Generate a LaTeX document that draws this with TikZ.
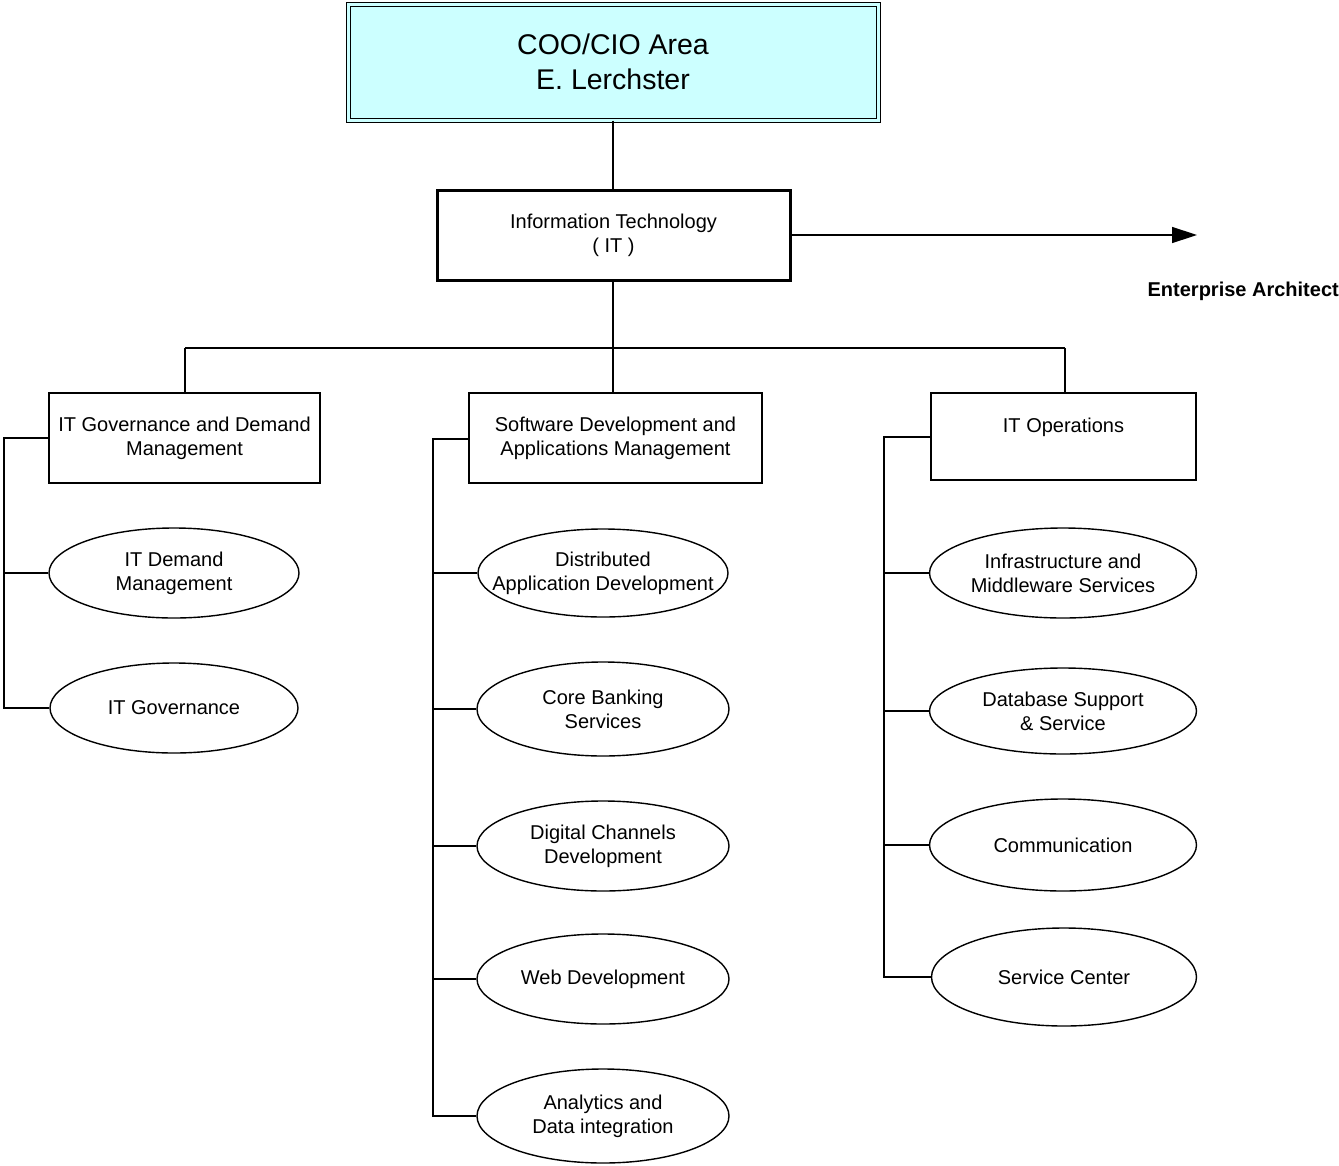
\documentclass[tikz,border=0pt]{standalone}
\usepackage{fontspec}
\setmainfont{Liberation Sans}
\usetikzlibrary{shapes.geometric,arrows.meta}
\definecolor{cooFill}{HTML}{CCFFFF}
\tikzset{
  txt/.style={font=\fontsize{20pt}{24pt}\selectfont, align=center, inner sep=0pt},
  unitbox/.style={txt, draw, rectangle, line width=1.4pt},
  oval/.style={txt, draw, ellipse, line width=1.4pt},
  conn/.style={line width=1.4pt},
}
\begin{document}
\begin{tikzpicture}[x=1pt,y=-1pt]
\useasboundingbox (0,0) rectangle (1339,1165);
% top
\node[draw, rectangle, fill=cooFill, double=cooFill, double distance=3pt, line width=1pt,
      minimum width=530pt, minimum height=116pt, inner sep=0pt, align=center,
      font=\fontsize{28.5pt}{35pt}\selectfont] (coo) at (613,62) {COO/CIO Area\\E. Lerchster};
\node[unitbox, line width=3pt, minimum width=353pt, minimum height=90pt] (it) at (613.5,235)
  {Information Technology\\( IT )};
\draw[conn] (coo.south) -- (coo.south |- it.north);
% arrow to Enterprise Architect
\coordinate (eatip) at (1197,235);
\draw[conn, -{Triangle[length=25pt,width=16pt]}] (it.east) -- (eatip);
\node[font=\bfseries\fontsize{20pt}{24pt}\selectfont, anchor=east, inner sep=0pt] (ea) at (1339,291) {Enterprise Architect};
% second level boxes
\node[unitbox, minimum width=271pt, minimum height=90pt] (gdm) at (184.5,438) {IT Governance and Demand\\Management};
\node[unitbox, minimum width=293pt, minimum height=90pt] (sdm) at (615.5,438) {Software Development and\\Applications Management};
\node[unitbox, minimum width=265pt, minimum height=87pt] (ops) at (1063.5,436.5) {IT Operations\\[-2pt]\mbox{}};
% tree connectors
\coordinate (jc) at (613,348);
\coordinate (jl) at (185,348);
\coordinate (jr) at (1065,348);
\draw[conn] (it.south -| jc) -- (jc);
\draw[conn] (jl) -- (jr);
\draw[conn] (jl) -- (jl |- gdm.north);
\draw[conn] (jc) -- (jc |- sdm.north);
\draw[conn] (jr) -- (jr |- ops.north);
% left column ellipses
\node[oval, minimum width=250pt, minimum height=90pt] (dem) at (174,573) {IT Demand\\Management};
\node[oval, minimum width=248pt, minimum height=90pt] (gov) at (174,708) {IT Governance};
% middle column ellipses
\node[oval, inner xsep=-30pt, minimum width=250pt, minimum height=88pt] (dist) at (603,573) {Distributed\\Application Development};
\node[oval, minimum width=252pt, minimum height=94pt] (core) at (603,709) {Core Banking\\Services};
\node[oval, minimum width=252pt, minimum height=90pt] (dig) at (603,846) {Digital Channels\\Development};
\node[oval, minimum width=252pt, minimum height=90pt] (web) at (603,979) {Web Development};
\node[oval, minimum width=252pt, minimum height=94pt] (ana) at (603,1116) {Analytics and\\Data integration};
% right column ellipses
\node[oval, minimum width=267pt, minimum height=90pt] (infra) at (1063,573) {Infrastructure and\\Middleware Services};
\node[oval, minimum width=267pt, minimum height=86pt] (db) at (1063,711) {Database Support\\\& Service};
\node[oval, minimum width=267pt, minimum height=92pt] (comm) at (1063,845) {Communication};
\node[oval, minimum width=265pt, minimum height=98pt] (svc) at (1064,977) {Service Center};
% left bracket
\coordinate (lb) at (4,438);
\draw[conn] (gdm.west) -- (lb) -- (lb |- gov.west) -- (gov.west);
\draw[conn] (lb |- dem.west) -- (dem.west);
% middle bracket
\coordinate (mb) at (433,439);
\draw[conn] (sdm.west |- mb) -- (mb) -- (mb |- ana.west) -- (ana.west);
\draw[conn] (mb |- dist.west) -- (dist.west);
\draw[conn] (mb |- core.west) -- (core.west);
\draw[conn] (mb |- dig.west) -- (dig.west);
\draw[conn] (mb |- web.west) -- (web.west);
% right bracket
\coordinate (rb) at (884,437);
\draw[conn] (ops.west |- rb) -- (rb) -- (rb |- svc.west) -- (svc.west);
\draw[conn] (rb |- infra.west) -- (infra.west);
\draw[conn] (rb |- db.west) -- (db.west);
\draw[conn] (rb |- comm.west) -- (comm.west);
\end{tikzpicture}
\end{document}
